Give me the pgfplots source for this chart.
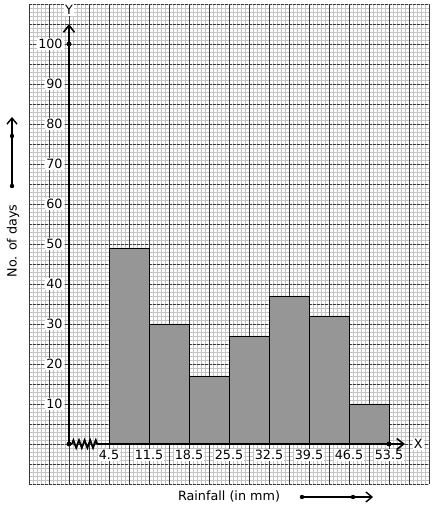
\documentclass[border=0pt]{standalone}
\usepackage{fontspec}
\setmainfont{DejaVu Sans}
\usepackage{pgfplots}
\pgfplotsset{compat=1.18}
\usetikzlibrary{arrows.meta,decorations.pathmorphing}
\definecolor{bargray}{HTML}{969696}
\definecolor{minorgray}{HTML}{C4C4C4}
\definecolor{majorgray}{HTML}{3A3A3A}
\newcommand{\lbl}{\fontsize{12.8}{15}\selectfont}
\begin{document}
\begin{tikzpicture}
\path[use as bounding box] (0,0) rectangle (434bp,510bp);
% graph paper
\begin{scope}[shift={(29bp,26bp)}]
  \draw[minorgray, line width=0.8bp, step=4bp] (0,0) grid (400bp,480bp);
  \foreach \j in {0,...,24} \draw[majorgray, line width=0.9bp, dash pattern=on 3bp off 1bp] (0,\j*20bp) -- (400bp,\j*20bp);
  \foreach \i in {0,...,20} \draw[majorgray, line width=0.9bp] (\i*20bp,0) -- (\i*20bp,480bp);
\end{scope}
\begin{axis}[
  at={(29bp,26bp)}, anchor=south west,
  width=400bp, height=480bp, scale only axis,
  xmin=-9.5, xmax=60.5, ymin=-10, ymax=110,
  clip=false,
  axis line style={draw=none},
  major tick length=0pt,
  xtick={4.5,11.5,18.5,25.5,32.5,39.5,46.5,53.5},
  ytick={10,20,30,40,50,60,70,80,90,100},
  /pgf/number format/assume math mode=true,
  /pgf/number format/fixed,
  /pgf/number format/precision=1,
  tick label style={font=\lbl, fill=white, inner sep=1.2bp, text=black},
  xticklabel style={anchor=north, yshift=35bp},
  yticklabel style={anchor=east, xshift=35bp},
]
\addplot[ybar interval, fill=bargray, draw=black, line width=0.9bp]
  coordinates {(4.5,49) (11.5,30) (18.5,17) (25.5,27) (32.5,37) (39.5,32) (46.5,10) (53.5,10)};
% axes
\draw[black, line width=2bp, -{Straight Barb[length=7bp,width=11bp,line width=1.6bp]}] (axis cs:-2.5,0) -- (axis cs:-2.5,105);
\draw[black, line width=2bp] (axis cs:-2.5,0) -- (axis cs:-1.975,0);
\draw[black, line width=1.8bp, decorate, decoration={zigzag, segment length=5.6bp, amplitude=3.8bp}] (axis cs:-1.975,0) -- (axis cs:2.925,0);
\draw[black, line width=2bp, -{Straight Barb[length=7bp,width=11bp,line width=1.6bp]}] (axis cs:2.925,0) -- (axis cs:56.3,0);
\addplot[only marks, mark=*, mark size=2.2bp, black] coordinates {(-2.5,0) (-2.5,100) (53.5,0)};
\node[font=\lbl, fill=white, inner sep=1bp, text=black] at (axis cs:-2.5,108.5) {Y};
\node[font=\lbl, fill=white, inner sep=1bp, text=black] at (axis cs:58.6,0) {X};
\end{axis}
% outer labels
\node[font=\lbl, rotate=90, text=black] at (13bp,269bp) {No. of days};
\draw[black, line width=1.6bp, -{Straight Barb[length=6bp,width=10bp,line width=1.4bp]}] (12bp,324bp) -- (12bp,393bp);
\fill (12bp,324bp) circle (2.2bp);
\fill (12bp,374bp) circle (2.2bp);
\node[font=\lbl, text=black] at (229bp,14bp) {Rainfall (in mm)};
\draw[black, line width=1.6bp, -{Straight Barb[length=6bp,width=10bp,line width=1.4bp]}] (302bp,13bp) -- (373bp,13bp);
\fill (302bp,13bp) circle (2.2bp);
\fill (353bp,13bp) circle (2.2bp);
\end{tikzpicture}
\end{document}
